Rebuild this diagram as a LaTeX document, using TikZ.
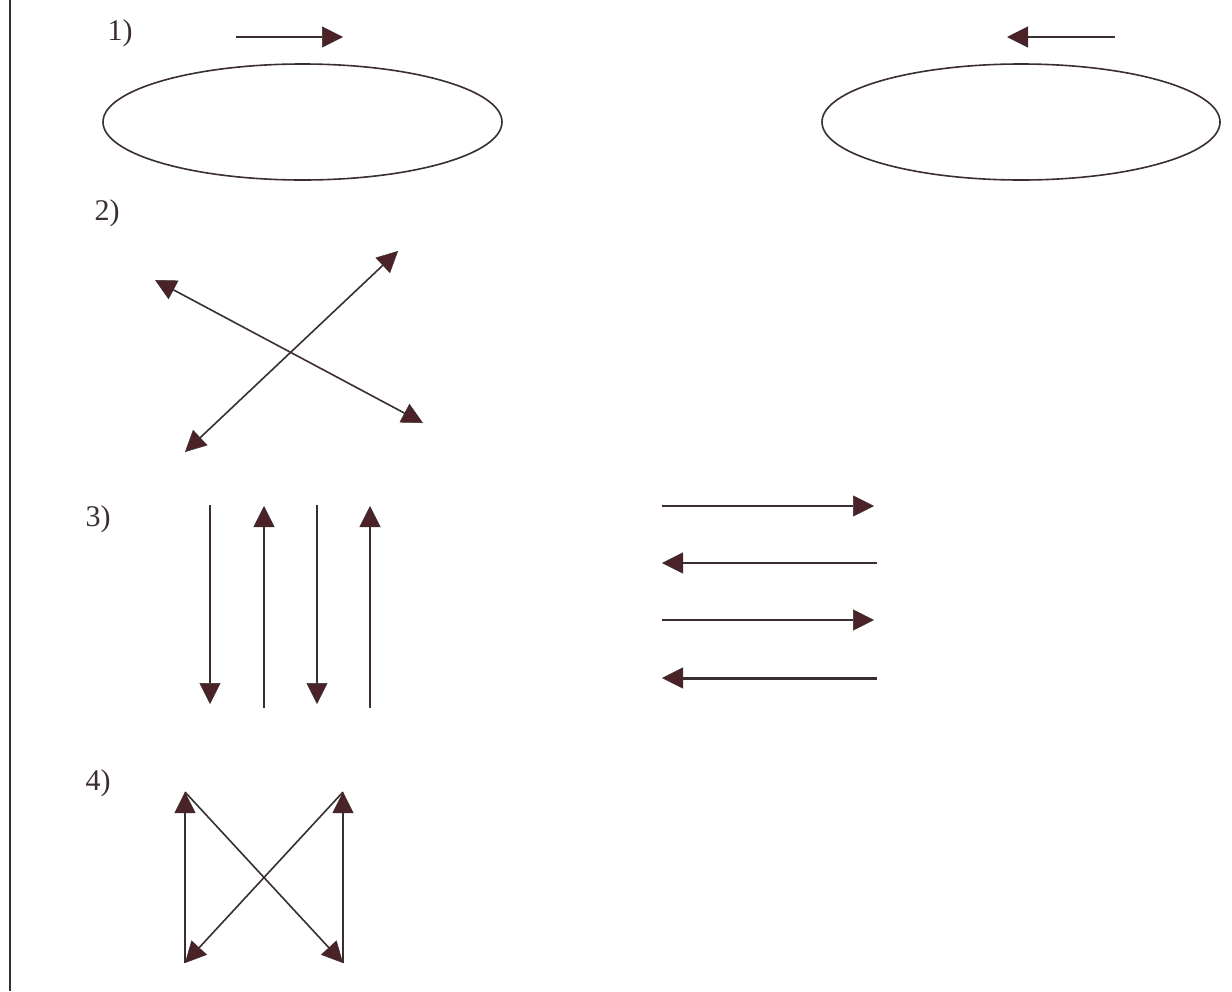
\documentclass[tikz,border=0pt]{standalone}
\usepackage{fontspec}
\setmainfont{Liberation Serif}
\usetikzlibrary{arrows.meta,shapes.geometric}
\definecolor{ink}{HTML}{3A2E2E}
\definecolor{headc}{HTML}{4A2228}
\begin{document}
\begin{tikzpicture}[x=1pt,y=-1pt,
  ln/.style={draw=ink, line width=1.6pt},
  thick ln/.style={draw=ink, line width=2.6pt},
  tip/.tip={Triangle[length=21pt,width=21pt,fill=headc,line width=0.5pt]},
  arr/.style={ln, -tip},
  darr/.style={ln, tip-tip},
  lbl/.style={font=\fontsize{30}{30}\selectfont, text=ink, inner sep=0pt},
  oval/.style={ellipse, draw=ink, line width=1.6pt, inner sep=0pt}]
\useasboundingbox (0,0) rectangle (1232,991);
\fill[white] (0,0) rectangle (1232,991);
% left border
\coordinate (bt) at (10,0);
\coordinate (bb) at (10,991);
\draw[ink, line width=2pt] (bt) -- (bb);

% 1)
\node[lbl] (l1) at (120,33) {1)};
\coordinate (p1s) at (236,37);
\coordinate (p1e) at (343,37);
\draw[arr] (p1s) -- (p1e);
\node[oval, minimum width=399pt, minimum height=116pt] (e1) at (302.5,122) {};
\coordinate (p2s) at (1115,37);
\coordinate (p2e) at (1007,37);
\draw[arr] (p2s) -- (p2e);
\node[oval, minimum width=398pt, minimum height=116pt] (e2) at (1021,122) {};

% 2)
\node[lbl] (l2) at (107,213) {2)};
\coordinate (xa1) at (185,452);
\coordinate (xa2) at (398,251);
\coordinate (xb1) at (155,280);
\coordinate (xb2) at (423,423);
\draw[darr] (xa1) -- (xa2);
\draw[darr] (xb1) -- (xb2);

% 3)
\node[lbl] (l3) at (98,519) {3)};
\coordinate (v1t) at (210,505); \coordinate (v1b) at (210,704);
\coordinate (v2t) at (264,506); \coordinate (v2b) at (264,708);
\coordinate (v3t) at (317,505); \coordinate (v3b) at (317,704);
\coordinate (v4t) at (370,506); \coordinate (v4b) at (370,708);
\draw[arr] (v1t) -- (v1b);
\draw[arr] (v2b) -- (v2t);
\draw[arr, line width=2.6pt] (v3t) -- (v3b);
\draw[arr] (v4b) -- (v4t);

\coordinate (h1l) at (662,506); \coordinate (h1r) at (874,506);
\coordinate (h2l) at (662,563); \coordinate (h2r) at (877,563);
\coordinate (h3l) at (662,620); \coordinate (h3r) at (874,620);
\coordinate (h4l) at (662,678); \coordinate (h4r) at (877,678);
\draw[arr] (h1l) -- (h1r);
\draw[arr] (h2r) -- (h2l);
\draw[arr] (h3l) -- (h3r);
\draw[arr, line width=3pt] (h4r) -- (h4l);

% 4)
\node[lbl] (l4) at (98,783) {4)};
\coordinate (q1t) at (185,792); \coordinate (q1b) at (185,963);
\coordinate (q2t) at (343,792); \coordinate (q2b) at (343,963);
\draw[arr] (q1b) -- (q1t);
\draw[arr] (q2b) -- (q2t);
\draw[arr] (q1t) -- (q2b);
\draw[arr] (q2t) -- (q1b);
\end{tikzpicture}
\end{document}
